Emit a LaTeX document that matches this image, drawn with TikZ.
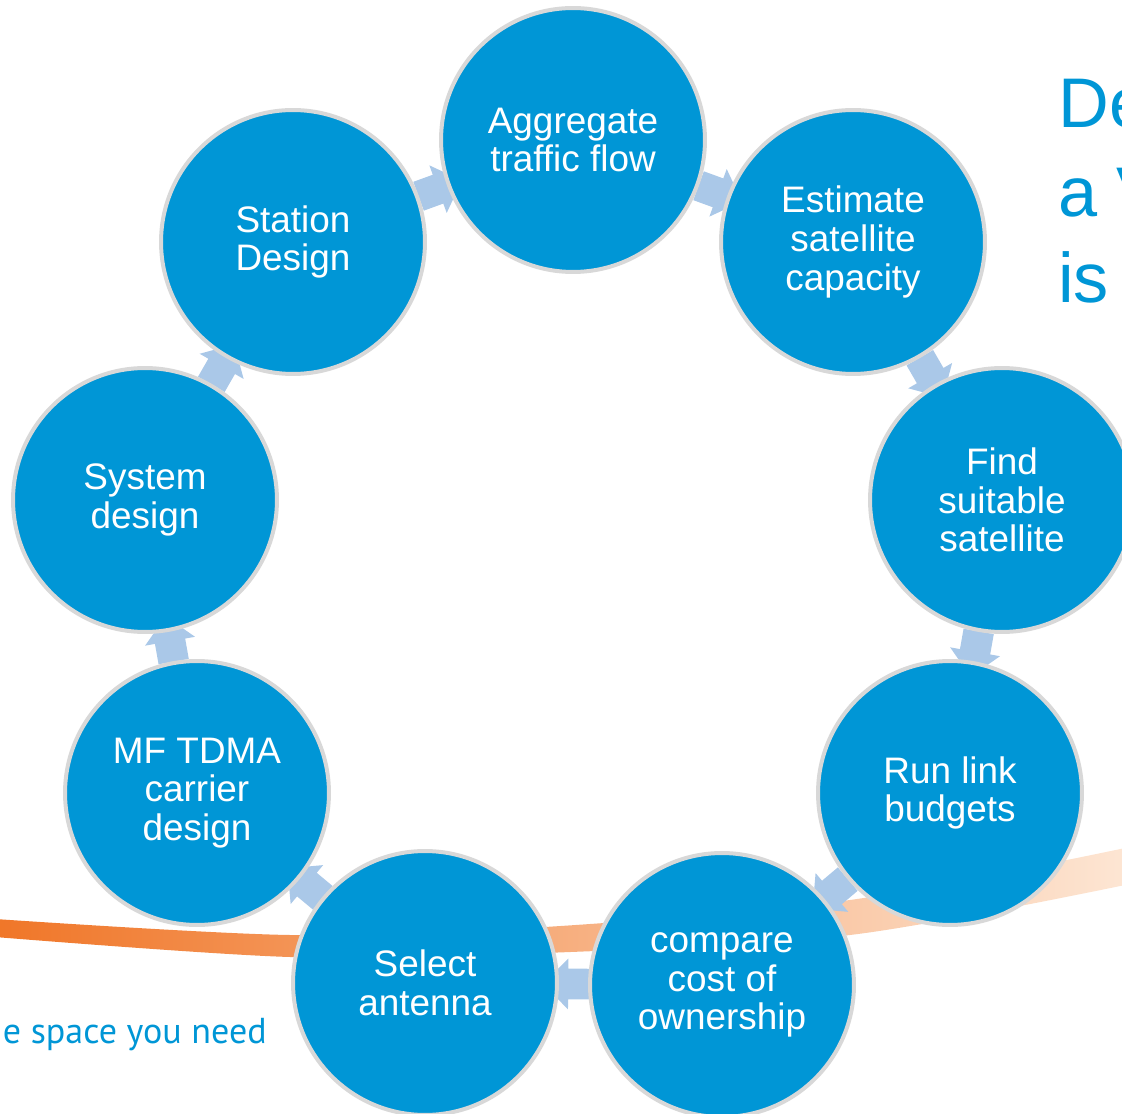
\documentclass[tikz,border=0pt]{standalone}
\usepackage{fontspec}
\setmainfont{Liberation Sans}
\newfontfamily\taglinefont{PT Sans}
\usetikzlibrary{shapes.arrows,backgrounds}

\definecolor{stageblue}{RGB}{0,150,214}
\definecolor{ringgray}{RGB}{216,216,216}
\definecolor{flowblue}{RGB}{170,200,232}
\definecolor{swooshdark}{RGB}{240,118,40}
\definecolor{swooshlight}{RGB}{253,230,212}

\tikzset{
    stage/.style={circle,fill=stageblue,draw=ringgray,line width=0.08cm,minimum size=5.28cm,
        inner sep=0pt,text=white,align=center,font=\fontsize{21}{22}\selectfont},
    flow/.style={single arrow,fill=flowblue,draw=none,minimum height=0.9cm,inner sep=0.3cm,
        single arrow head extend=0.2cm,sloped,allow upside down,anchor=center},
    heading/.style={anchor=base west,inner sep=0pt,text=stageblue,font=\fontsize{40}{48}\selectfont},
    tagline/.style={anchor=base east,inner sep=0pt,text=stageblue,font=\taglinefont\fontsize{20.5}{25}\selectfont}
}

\begin{document}
\begin{tikzpicture}[x=0.02cm,y=-0.02cm]
            % Frame
            \useasboundingbox (0,0) rectangle (1122,1114);
            % Stages, clockwise from the top
            \node[stage] (aggr) at (573,140) {Aggregate\\traffic flow};
            \node[stage] (estim) at (853,242) {Estimate\\satellite\\capacity};
            \node[stage] (find) at (1002,500) {Find\\suitable\\satellite};
            \node[stage] (runlink) at (950,793) {Run link\\budgets};
            \node[stage] (compare) at (722,985) {compare\\cost of\\ownership};
            \node[stage] (select) at (425,983) {Select\\antenna};
            \node[stage] (mftdma) at (197,793) {MF TDMA\\carrier\\design};
            \node[stage] (sysdes) at (145,500) {System\\design};
            \node[stage] (station) at (293,242) {Station\\Design};
            % Heading, cut by the right edge
            \node[heading] (head1) at (1058,128) {De};
            \node[heading] (head2) at (1058,217) {a V};
            \node[heading] (head3) at (1058,303) {is};
            % Tagline
            \node[tagline] (tag) at (267,1043) {e space you need};
            \begin{scope}[on background layer]
                % Swoosh
                \shade[left color=swooshdark,right color=swooshlight]
                    plot[smooth] coordinates {(-5,919) (290,935) (545,927) (850,900) (1130,847)}
                    -- plot[smooth] coordinates {(1130,884) (850,935) (545,953) (290,957) (-5,937)}
                    -- cycle;
                % Flow arrows
                \foreach \a/\b in {station/aggr,aggr/estim,estim/find,find/runlink,runlink/compare,
                    compare/select,select/mftdma,mftdma/sysdes,sysdes/station}
                    \path (\a) -- node[flow]{} (\b);
            \end{scope}
\end{tikzpicture}
\end{document}
